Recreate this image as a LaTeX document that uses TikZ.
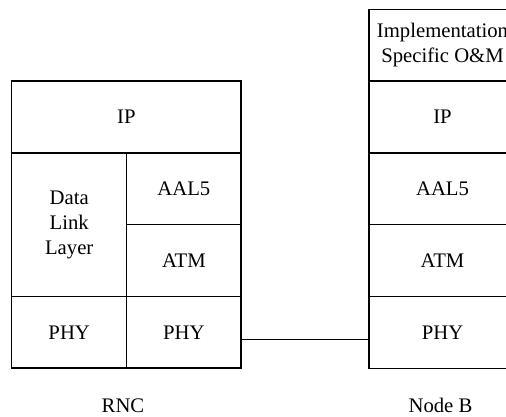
\documentclass[tikz,border=0pt]{standalone}
\usepackage{fontspec}
\setmainfont{Liberation Serif}
\tikzset{
  cell/.style={draw, line width=1.5pt, rectangle, inner sep=0pt, outer sep=0pt, align=center,
    font=\fontsize{20.7}{24.7}\selectfont},
  caption/.style={inner sep=0pt, font=\fontsize{20.7}{24.7}\selectfont},
  link/.style={line width=1.5pt}
}
\begin{document}
\begin{tikzpicture}[x=1pt,y=-1pt]
\useasboundingbox (0,0) rectangle (506,416);
% RNC stack
\node[cell, minimum width=229.3pt, minimum height=71.7pt] (rip) at (126.35,117) {IP};
\node[cell, minimum width=115pt, minimum height=143.7pt] (rdll) at (69.2,224.85) {Data\\Link\\Layer};
\node[cell, minimum width=114.3pt, minimum height=71.5pt] (raal) at (183.85,188.75) {AAL5};
\node[cell, minimum width=114.3pt, minimum height=72pt] (ratm) at (183.85,260.5) {ATM};
\node[cell, minimum width=115pt, minimum height=71.5pt] (rphya) at (69.2,332.25) {PHY};
\node[cell, minimum width=114.3pt, minimum height=71.5pt] (rphyb) at (183.85,332.25) {PHY};
% Node B stack
\node[cell, minimum width=147pt, minimum height=71.5pt] (bom) at (442.5,45) {Implementation\\Specific O\&M};
\node[cell, minimum width=147pt, minimum height=72pt] (bip) at (442.5,116.8) {IP};
\node[cell, minimum width=147pt, minimum height=71.3pt] (baal) at (442.5,188.8) {AAL5};
\node[cell, minimum width=147pt, minimum height=72pt] (batm) at (442.5,260.35) {ATM};
\node[cell, minimum width=147pt, minimum height=72pt] (bphy) at (442.5,332.25) {PHY};
% connector
\coordinate (cstart) at ([yshift=-7pt]rphyb.east);
\draw[link] (cstart) -- (cstart -| bphy.west);
% captions
\node[caption] (lrnc) at (123,405.5) {RNC};
\node[caption] (lnodeb) at (440.5,405.5) {Node B};
\end{tikzpicture}
\end{document}
